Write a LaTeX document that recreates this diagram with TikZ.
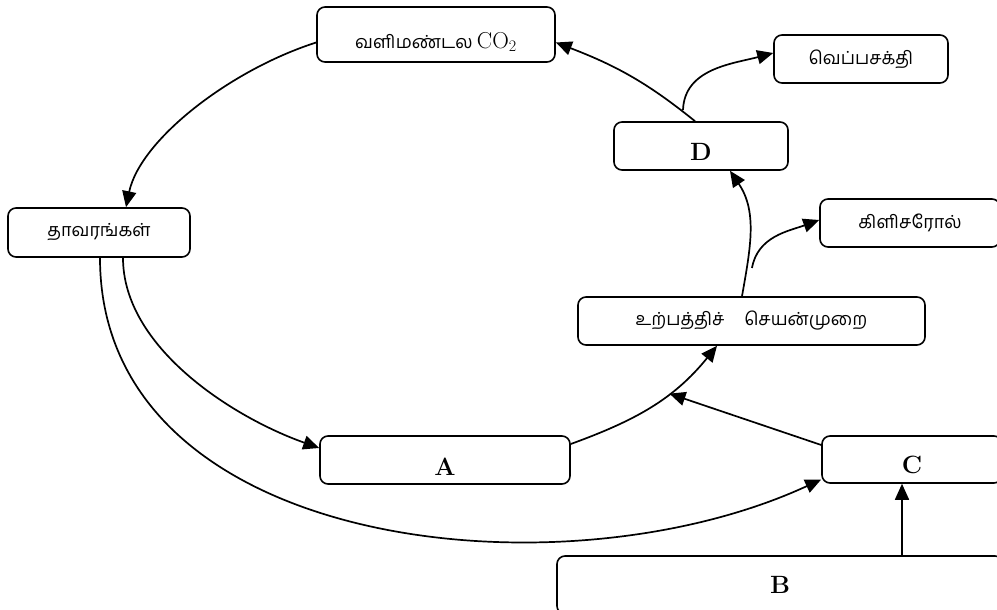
\documentclass[tikz,border=0pt]{standalone}
\usepackage{fontspec}
\newfontfamily\tamil[Script=Tamil]{Hind Madurai}
\usetikzlibrary{arrows.meta}

\begin{document}
\begin{tikzpicture}[x=1pt, y=1pt, align=center,
  box/.style={draw, line width=1.6pt, rounded corners=8pt, inner sep=0pt},
  tam/.style={font=\tamil\fontsize{18}{21}\selectfont},
  lat/.style={font=\fontsize{25}{29}\selectfont\bfseries},
  arr/.style={line width=1.7pt, -{Triangle[length=16pt,width=14pt]}}]
\useasboundingbox (0,0) rectangle (997,610);
\clip (0,0) rectangle (997,610);

% boxes
\node[box, minimum width=238, minimum height=55,
  label={[tam, yshift=-7.5]center:வளிமண்டல {\rmfamily\fontsize{23}{27}\selectfont CO\textsubscript{2}}}] (co2) at (436,575.5) {};
\node[box, tam, minimum width=174, minimum height=48] (heat) at (861,551) {வெப்பசக்தி};
\node[box, minimum width=174, minimum height=48, label={[lat, yshift=-6]center:D}] (D) at (701,464) {};
\node[box, tam, minimum width=182, minimum height=49] (plants) at (99,377.5) {தாவரங்கள்};
\node[box, tam, minimum width=180, minimum height=48] (gly) at (910,387) {கிளிசரோல்};
\node[box, tam, minimum width=347, minimum height=48] (prod) at (751.5,289) {உற்பத்திச்\hspace{1.1em}செயன்முறை};
\node[box, minimum width=250, minimum height=48, label={[lat, yshift=-7]center:A}] (A) at (445,150) {};
\node[box, minimum width=180, minimum height=47, label={[lat, yshift=-5.5]center:C}] (C) at (912,150.5) {};
\node[box, minimum width=446, minimum height=58, label={[lat]center:B}] (B) at (780,25) {};

\coordinate (glystart) at (752,342);
\coordinate (heatstart) at (683,500);

% cycle
\draw[arr] ([yshift=-8]co2.west) .. controls (230,540) and (140,470) .. ([xshift=27]plants.north);
\draw[arr] ([xshift=24]plants.south) .. controls (123,263) and (232,193) .. ([yshift=12]A.west);
\draw[arr] ([xshift=1]plants.south) .. controls (100,60) and (560,10) .. ([yshift=-20]C.west);
\draw[arr] ([yshift=16]A.east) to[out=20, in=231] coordinate[pos=0.63] (meet) ([xshift=-34.5]prod.south);
\draw[arr] ([yshift=14.5]C.west) -- (meet);
\draw[arr] ([xshift=-10]C.south |- B.north) -- ([xshift=-10]C.south);
\draw[arr] ([xshift=-9.5]prod.north) to[out=80, in=-56] ([xshift=29]D.south);
\draw[arr] (glystart) to[out=80, in=200] ([yshift=3]gly.west);
\draw[arr] (heatstart) to[out=88, in=195] ([yshift=6]heat.west);
\draw[arr] ([xshift=-6]D.north) to[out=141, in=-21] ([yshift=-8]co2.east);
\end{tikzpicture}
\end{document}
